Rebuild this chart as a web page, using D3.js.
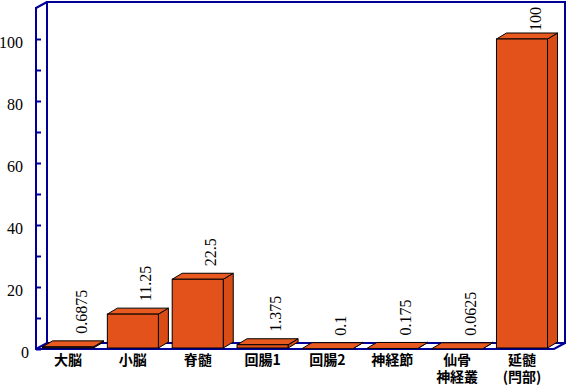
<html>
<meta http-equiv="content-type" content="text/html; charset=UTF8">
<style>
  body {margin:0; background:#fff;}
</style>
<body>
<svg id="svg1" width="569" height="387"></svg>
<script src="https://cdn.jsdelivr.net/npm/d3@7"></script>
<script>
// data
var categories=["大脳","小脳","脊髄","回腸1","回腸2","神経節","仙骨\n神経叢","延髄\n(閂部)"];
var values=[0.6875,11.25,22.5,1.375,0.1,0.175,0.0625,100];
var labels=["0.6875","11.25","22.5","1.375","0.1","0.175","0.0625","100"];
var majorTicks=[0,20,40,60,80,100];
var minorTicks=[10,30,50,70,90];

var blue="#000099";
var serif="Liberation Serif";
var cjk="Noto Sans CJK JP";
var dx=11, dy=-6;     // depth of the frame
var bdx=10, bdy=-6;   // depth of a bar

var svg=d3.select("#svg1");
var y=d3.scaleLinear().domain([0,110]).range([349,8]);
var x=d3.scaleBand().domain(categories).range([36,554]).paddingInner(0.213).paddingOuter(0.1);

var x0=x.range()[0], x1=x.range()[1], yb=y(0), yt=y(110);

// back wall
svg.append("rect")
  .attr("x",x0+dx).attr("y",yt+dy).attr("width",x1-x0).attr("height",yb-yt)
  .style("fill","#fff").style("stroke",blue).style("stroke-width",2);

// floor
svg.append("polygon")
  .attr("points",[[x0,yb],[x1,yb],[x1+dx,yb+dy],[x0+dx,yb+dy]].join(" "))
  .style("fill","#fff").style("stroke",blue).style("stroke-width",2);

// left wall top edge
svg.append("line").attr("x1",x0).attr("y1",yt).attr("x2",x0+dx).attr("y2",yt+dy)
  .style("stroke",blue).style("stroke-width",2);

// bars
var data=categories.map(function(c,i){return {cat:c,v:values[i],lab:labels[i]}});
var base=yb-1;
var G=svg.selectAll("g.bar").data(data).enter().append("g").attr("class","bar");

G.append("polygon").attr("points",function(d){
    var l=x(d.cat), r=l+x.bandwidth(), t=y(d.v);
    return [[r,t],[r+bdx,t+bdy],[r+bdx,base+bdy],[r,base]].join(" ");
  }).style("fill","#d94c16").style("stroke","#000").style("stroke-width",1);

G.append("polygon").attr("points",function(d){
    var l=x(d.cat), r=l+x.bandwidth(), t=y(d.v);
    return [[l,t],[l+bdx,t+bdy],[r+bdx,t+bdy],[r,t]].join(" ");
  }).style("fill","#e85a20").style("stroke","#000").style("stroke-width",1);

G.append("rect")
  .attr("x",function(d){return x(d.cat)})
  .attr("y",function(d){return y(d.v)})
  .attr("width",x.bandwidth())
  .attr("height",function(d){return base-y(d.v)})
  .style("fill","#e4521b").style("stroke","#000").style("stroke-width",1);

// value labels, rotated
G.append("text")
  .style("font-family",serif).style("font-size","16px")
  .attr("dy","0.35em")
  .text(function(d){return d.lab})
  .attr("transform",function(d){
    var len=this.getComputedTextLength();
    var cx=x(d.cat)+x.bandwidth()/2+13;
    var ty=Math.max(y(d.v)-13, yt-1+len);
    return "translate("+cx+","+ty+") rotate(-90)";
  });

// y axis
var axis=svg.append("g").attr("transform","translate("+x0+",0)");
axis.call(d3.axisLeft(y).tickValues(majorTicks).tickSize(-5).tickPadding(13));
axis.append("g").call(d3.axisLeft(y).tickValues(minorTicks).tickSize(-5).tickFormat(""));
axis.selectAll("path.domain").remove();
axis.selectAll(".tick line").style("stroke",blue).style("stroke-width",2);
axis.selectAll(".tick text").attr("dy","0.5em")
  .style("font-family",serif).style("font-size","16px").style("fill","#000");
axis.selectAll(".tick text").filter(function(d){return d===0}).attr("x",-7).attr("dy","0.55em");
axis.append("line").attr("x1",0).attr("x2",0).attr("y1",yt-1).attr("y2",yb+1)
  .style("stroke",blue).style("stroke-width",2);

// category labels, one text per line
var lines=[];
categories.forEach(function(c){
  c.split("\n").forEach(function(s,i){lines.push({cat:c,s:s,row:i})});
});
svg.selectAll("text.cat").data(lines).enter().append("text").attr("class","cat")
  .style("font-family",cjk).style("font-size","14px").style("font-weight","bold")
  .attr("text-anchor","middle")
  .attr("x",function(d){return x(d.cat)+x.bandwidth()/2})
  .attr("y",function(d){return 365+d.row*17})
  .text(function(d){return d.s});
</script>
</html>
